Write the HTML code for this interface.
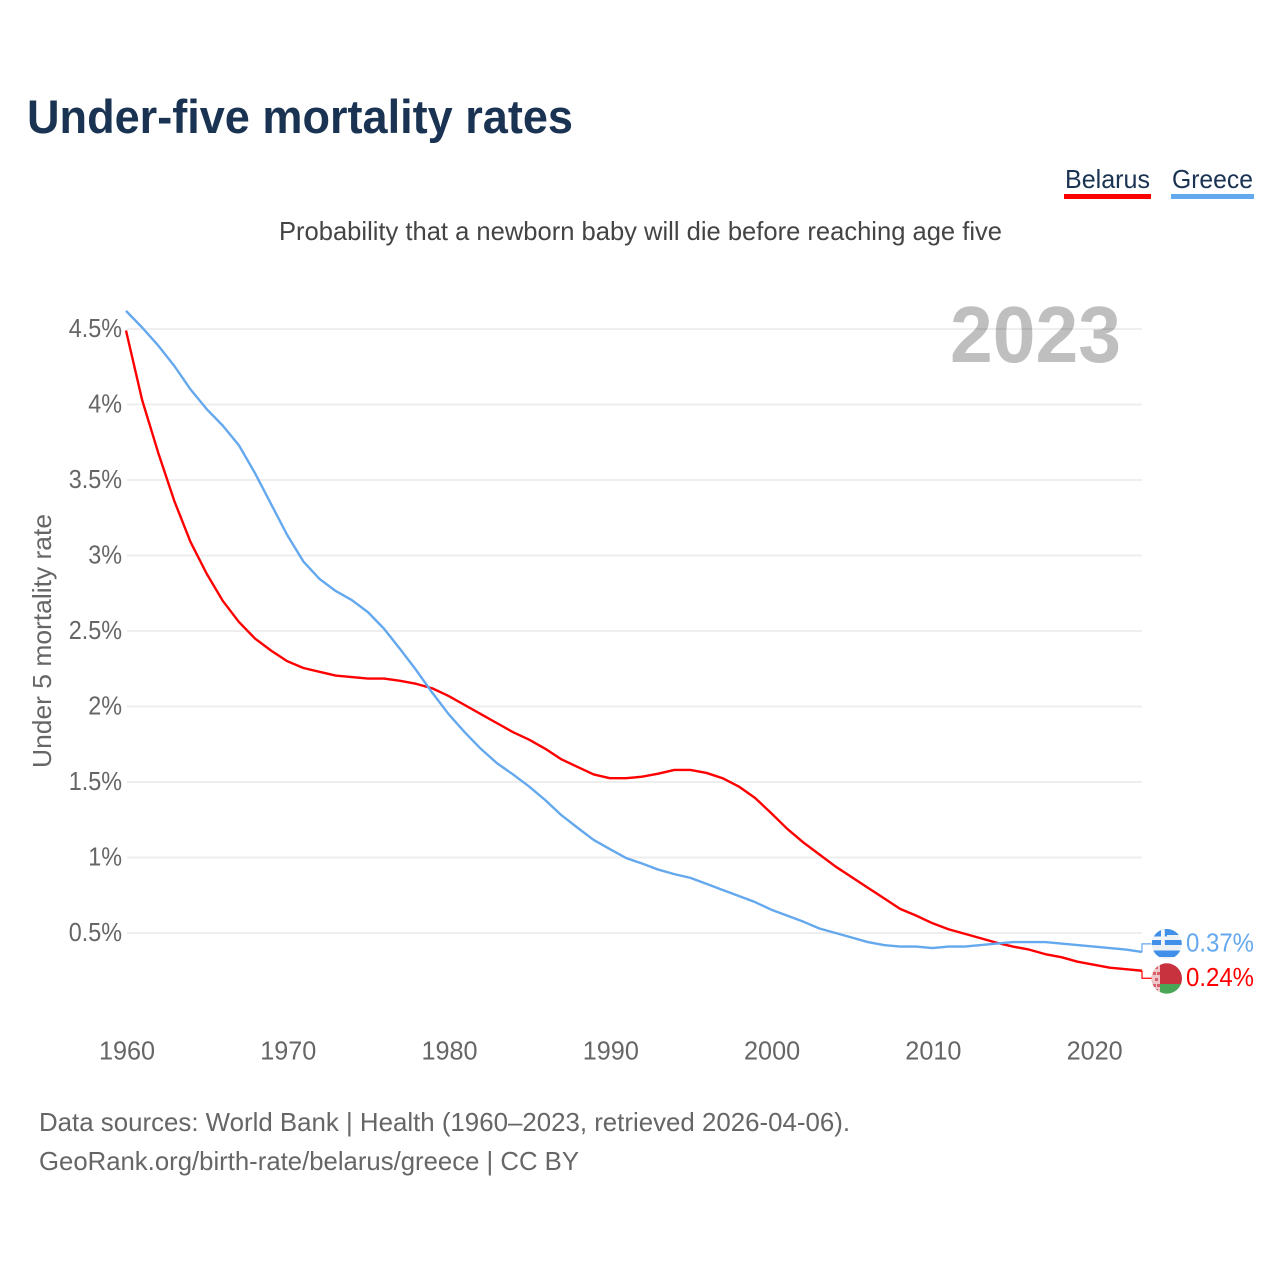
<!DOCTYPE html>
<html>
<head>
<meta charset="utf-8">
<title>Under-five mortality rates</title>
<style>
html,body{margin:0;padding:0;background:#fff;}
svg{display:block;}
text{font-family:"Liberation Sans",sans-serif;}
</style>
</head>
<body>
<svg id="chart" xmlns="http://www.w3.org/2000/svg" width="1280" height="1280" viewBox="0 0 1280 1280">
  <rect width="1280" height="1280" fill="#fff"/>
  <text x="27" y="133" font-size="47" font-weight="700" fill="#1a3352" textLength="546" lengthAdjust="spacingAndGlyphs">Under-five mortality rates</text>
  <text x="1065" y="188" font-size="26" fill="#1a3352" textLength="85" lengthAdjust="spacingAndGlyphs">Belarus</text>
  <rect x="1064" y="194" width="87" height="5" fill="#ff0000"/>
  <text x="1172" y="188" font-size="26" fill="#1a3352" textLength="81" lengthAdjust="spacingAndGlyphs">Greece</text>
  <rect x="1171" y="194" width="83" height="5" fill="#64a8ee"/>
  <text x="279" y="240" font-size="26" fill="#444" textLength="723" lengthAdjust="spacingAndGlyphs">Probability that a newborn baby will die before reaching age five</text>
  <g id="grid"></g>
  <text x="950" y="362" font-size="80" font-weight="700" fill="#000" fill-opacity="0.25" textLength="171" lengthAdjust="spacingAndGlyphs">2023</text>
  <g id="yticks"></g>
  <g id="xticks"></g>
  <text transform="translate(51,641) rotate(-90)" text-anchor="middle" font-size="26" fill="#666" textLength="254" lengthAdjust="spacingAndGlyphs">Under 5 mortality rate</text>
  <g id="series"></g>
  <defs>
    <clipPath id="clip-gr"><circle cx="1166.8" cy="944" r="15"/></clipPath>
    <clipPath id="clip-by"><circle cx="1166.8" cy="978.5" r="15.2"/></clipPath>
  </defs>
  <g clip-path="url(#clip-gr)">
    <rect x="1151" y="928" width="32" height="32" fill="#eef1f4"/>
    <rect x="1151" y="928" width="32" height="7" fill="#4090ea"/>
    <rect x="1151" y="940" width="32" height="5" fill="#4090ea"/>
    <rect x="1151" y="950.5" width="32" height="6.5" fill="#4090ea"/>
    <rect x="1151" y="928" width="16" height="17" fill="#4090ea"/>
    <rect x="1161" y="928" width="3.8" height="17" fill="#f4f6f8"/>
    <rect x="1151" y="936.5" width="16" height="3.5" fill="#f4f6f8"/>
  </g>
  <g clip-path="url(#clip-by)">
    <rect x="1151" y="963" width="32" height="21" fill="#c8313e"/>
    <rect x="1151" y="984" width="32" height="11" fill="#4aa657"/>
    <rect x="1151" y="963" width="9" height="32" fill="#efc6c9"/>
    <path d="M1154 966h4v3h-4zM1153 972h3v3h-3zM1157 972h3v3h-3zM1155 978h3v3h-3zM1153 984h3v3h-3zM1157 984h3v3h-3zM1155 989h3v3h-3z" fill="#d8626c"/>
  </g>
  <g id="endlabels"></g>
  <text x="39" y="1131" font-size="26" fill="#666" textLength="811" lengthAdjust="spacingAndGlyphs">Data sources: World Bank | Health (1960–2023, retrieved 2026-04-06).</text>
  <text x="39" y="1170" font-size="26" fill="#666" textLength="540" lengthAdjust="spacingAndGlyphs">GeoRank.org/birth-rate/belarus/greece | CC BY</text>
</svg>
<script>
const startYear = 1960;
const yearTicks = [1960, 1970, 1980, 1990, 2000, 2010, 2020];
const rateTicks = [0.5, 1, 1.5, 2, 2.5, 3, 3.5, 4, 4.5];
const belarusRates = [4.49,4.03,3.68,3.36,3.09,2.88,2.70,2.56,2.45,2.37,2.30,2.255,2.23,2.205,2.195,2.185,2.185,2.17,2.15,2.12,2.07,2.01,1.95,1.89,1.83,1.78,1.72,1.65,1.60,1.55,1.525,1.525,1.535,1.555,1.58,1.58,1.56,1.525,1.47,1.395,1.295,1.19,1.10,1.02,0.94,0.87,0.80,0.73,0.66,0.615,0.565,0.525,0.495,0.465,0.435,0.41,0.39,0.36,0.34,0.31,0.29,0.27,0.26,0.25];
const greeceRates = [4.62,4.51,4.39,4.255,4.10,3.97,3.86,3.73,3.545,3.34,3.135,2.96,2.845,2.765,2.705,2.625,2.515,2.38,2.24,2.09,1.95,1.83,1.72,1.625,1.55,1.47,1.38,1.28,1.197,1.116,1.056,0.997,0.96,0.92,0.89,0.865,0.825,0.785,0.745,0.705,0.655,0.615,0.575,0.53,0.50,0.47,0.44,0.42,0.41,0.41,0.40,0.41,0.41,0.42,0.43,0.44,0.44,0.44,0.43,0.42,0.41,0.40,0.39,0.375];
const belarusLatest = '0.24%';
const greeceLatest = '0.37%';

const NS = 'http://www.w3.org/2000/svg';
const xScale = function (year) { return 126 + (year - 1960) * 16.127; };
const yScale = function (rate) { return 1008.5 - rate * 151; };

function make(tag, parent, attrs) {
  const el = document.createElementNS(NS, tag);
  for (const k in attrs) { el.setAttribute(k, attrs[k]); }
  parent.appendChild(el);
  return el;
}

const gridGroup = document.getElementById('grid');
const yGroup = document.getElementById('yticks');
rateTicks.forEach(function (r) {
  const line = make('line', gridGroup, { x1: 127, x2: 1142, y1: yScale(r), y2: yScale(r), stroke: '#eeeeee', 'stroke-width': 2 });
  
  
  const t = make('text', yGroup, { x: 122, y: yScale(r) + 8, 'text-anchor': 'end', 'font-size': 26, fill: '#666' });
  
  
  t.textContent = r + '%';
  t.setAttribute('textLength', (t.getComputedTextLength() * 0.9).toFixed(1));
  t.setAttribute('lengthAdjust', 'spacingAndGlyphs');
});

const xGroup = document.getElementById('xticks');
yearTicks.forEach(function (y) {
  const t = make('text', xGroup, { x: xScale(y) + 1, y: 1059.5, 'text-anchor': 'middle', 'font-size': 26, fill: '#666' });
  
  
  t.textContent = y;
  t.setAttribute('textLength', (t.getComputedTextLength() * 0.97).toFixed(1));
  t.setAttribute('lengthAdjust', 'spacingAndGlyphs');
});

const seriesGroup = document.getElementById('series');
const labelGroup = document.getElementById('endlabels');

function drawSeries(values, color, name, side, printed, gap) {
  const pts = values.map(function (v, i) { return xScale(startYear + i).toFixed(2) + ',' + yScale(v).toFixed(2); });
  const line = make('polyline', seriesGroup, { points: pts.join(' '), fill: 'none', stroke: color, 'stroke-width': 2.4, 'stroke-linejoin': 'round' });
  
  
  const last = values[values.length - 1];
  const ex = xScale(startYear + values.length - 1);
  const ey = yScale(last);
  const ly = ey + side;
  const conn = make('polyline', seriesGroup, { points: ex + ',' + ey + ' ' + ex + ',' + ly + ' ' + (ex + gap) + ',' + ly, fill: 'none', stroke: color, 'stroke-width': 1.2 });
  
  
  const t = make('text', labelGroup, { x: 1186, y: ly + 7.5, 'font-size': 26, fill: color, textLength: 68, lengthAdjust: 'spacingAndGlyphs' });
  
  
  t.textContent = printed;
}

drawSeries(belarusRates, '#ff0000', 'belarus', 7.5, belarusLatest, 10);
drawSeries(greeceRates, '#64a8ee', 'greece', -8, greeceLatest, 9);
</script>
</body>
</html>
